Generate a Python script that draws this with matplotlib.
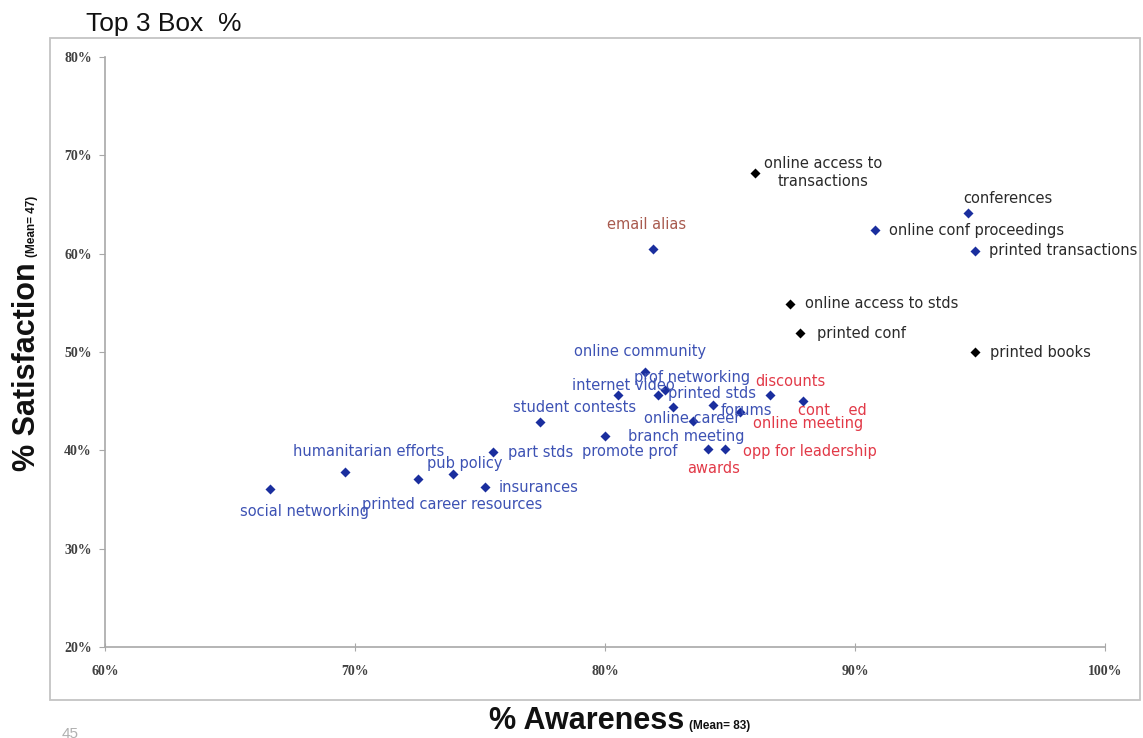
import matplotlib
matplotlib.use("Agg")
import matplotlib.pyplot as plt
from matplotlib.patches import Rectangle
from matplotlib.ticker import FuncFormatter

# ---------------- data ----------------
labels = [
    "online access to\ntransactions", "email alias", "conferences",
    "online conf proceedings", "printed transactions", "online access to stds",
    "printed conf", "printed books", "online community", "prof networking",
    "internet video", "printed stds", "discounts", "student contests",
    "forums", "cont    ed", "online career", "online meeting",
    "branch meeting", "promote prof", "opp for leadership", "awards",
    "part stds", "pub policy", "humanitarian efforts", "insurances",
    "printed career resources", "social networking",
]
awareness = [
    86.0, 81.9, 94.5,
    90.8, 94.8, 87.4,
    87.8, 94.8, 81.6, 82.1,
    80.5, 82.4, 86.6, 77.4,
    84.3, 87.9, 83.5, 85.4,
    82.7, 80.0, 84.8, 84.1,
    75.5, 73.9, 69.6, 75.2,
    72.5, 66.6,
]
satisfaction = [
    68.2, 60.5, 64.1,
    62.4, 60.3, 54.9,
    51.9, 50.0, 48.0, 45.6,
    45.6, 46.1, 45.6, 42.9,
    44.6, 45.0, 43.0, 43.9,
    44.4, 41.5, 40.1, 40.1,
    39.8, 37.6, 37.8, 36.3,
    37.1, 36.1,
]
# marker group: k = black, b = blue
marker_group = ["k", "b", "b", "b", "b", "k", "k", "k"] + ["b"] * 20
# label group: k = black, r = red, e = brown, b = blue
label_group = ["k", "e", "k", "k", "k", "k", "k", "k",
               "b", "b", "b", "b", "r", "b", "b", "r", "b", "r",
               "b", "b", "r", "r", "b", "b", "b", "b", "b", "b"]

x_ticks = [60, 70, 80, 90, 100]
y_ticks = [20, 30, 40, 50, 60, 70, 80]

# ---------------- layout / style ----------------
# label offsets in pixels (dx right, dy up) and horizontal alignment
label_layout = [
    (68, 1, "center"), (-6, 24, "center"), (40, 15, "center"),
    (14, 0, "left"), (14, 0, "left"), (15, 0, "left"),
    (17, 0, "left"), (15, 0, "left"), (-5, 20, "center"), (-24, 18, "left"),
    (-46, 10, "left"), (3, -3, "left"), (-15, 14, "left"), (-27, 14, "left"),
    (8, -5, "left"), (-5, -9, "left"), (-49, 2, "left"), (13, -12, "left"),
    (-44, -29, "left"), (-23, -16, "left"), (18, -2, "left"), (-20, -19, "left"),
    (15, 0, "left"), (-26, 10, "left"), (-52, 20, "left"), (14, -1, "left"),
    (-55, -26, "left"), (-30, -23, "left"),
]
marker_colors = {"k": "#000000", "b": "#1a2e9e"}
label_colors = {"k": "#2a2a2a", "r": "#e23a48", "e": "#a85a4e", "b": "#3d52b4"}

W, H = 1143, 738
fig = plt.figure(figsize=(W / 100, H / 100), dpi=100)
fig.patch.set_facecolor("white")

ax = fig.add_axes([105 / W, 1 - 647 / H, 1000 / W, 590 / H])
ax.set_xlim(60, 100)
ax.set_ylim(20, 80)
ax.set_xticks(x_ticks)
ax.set_yticks(y_ticks)
pct = FuncFormatter(lambda v, p: f"{v:.0f}%")
ax.xaxis.set_major_formatter(pct)
ax.yaxis.set_major_formatter(pct)
for s in ["top", "right"]:
    ax.spines[s].set_visible(False)
for s in ["left", "bottom"]:
    ax.spines[s].set_color("#a8a8a8")
    ax.spines[s].set_linewidth(1.2)
ax.tick_params(axis="x", direction="inout", length=6, color="#a8a8a8", pad=10,
               labelsize=10, labelcolor="#404040")
ax.tick_params(axis="y", direction="out", length=4, color="#a8a8a8", pad=5.5,
               labelsize=10, labelcolor="#404040")
for t in ax.get_xticklabels() + ax.get_yticklabels():
    t.set_fontfamily("Liberation Serif")
    t.set_fontweight("bold")

for i, name in enumerate(labels):
    ax.scatter(awareness[i], satisfaction[i], marker="D", s=26,
               color=marker_colors[marker_group[i]], zorder=3, linewidths=0)
    dx, dy, ha = label_layout[i]
    ax.annotate(name, (awareness[i], satisfaction[i]), xytext=(dx, dy),
                textcoords="offset pixels", ha=ha, va="center",
                multialignment="center", fontsize=10.5, family="DejaVu Sans",
                color=label_colors[label_group[i]], zorder=4, linespacing=1.25)

# outer frame
fig.patches.append(Rectangle((50 / W, 1 - 700 / H), 1090 / W, 662 / H,
                             transform=fig.transFigure, fill=False,
                             edgecolor="#c4c4c4", linewidth=1.3))

# title
fig.text(86 / W, 1 - 31 / H, "Top 3 Box  %", fontsize=19, family="Liberation Sans",
         color="#111111", va="baseline", ha="left")

# x label
fig.text(684 / W, 1 - 729 / H, "% Awareness", fontsize=22, fontweight="bold",
         family="Liberation Sans", color="#111111", ha="right", va="baseline")
fig.text(689 / W, 1 - 729 / H, "(Mean= 83)", fontsize=8.5, fontweight="bold",
         family="Liberation Sans", color="#111111", ha="left", va="baseline")

# y label
fig.text(35 / W, 1 - 262 / H, "% Satisfaction", fontsize=22, fontweight="bold",
         family="Liberation Sans", color="#111111", ha="right", va="baseline",
         rotation=90, rotation_mode="anchor")
fig.text(35 / W, 1 - 257 / H, "(Mean= 47)", fontsize=8.5, fontweight="bold",
         family="Liberation Sans", color="#111111", ha="left", va="baseline",
         rotation=90, rotation_mode="anchor")

# page number (partly cut at bottom, as in the slide)
fig.text(62 / W, 1 - 727 / H, "45", fontsize=11, family="Liberation Sans",
         color="#b0b0b0", ha="left", va="top")

fig.savefig("out.png", dpi=100, facecolor="white")
